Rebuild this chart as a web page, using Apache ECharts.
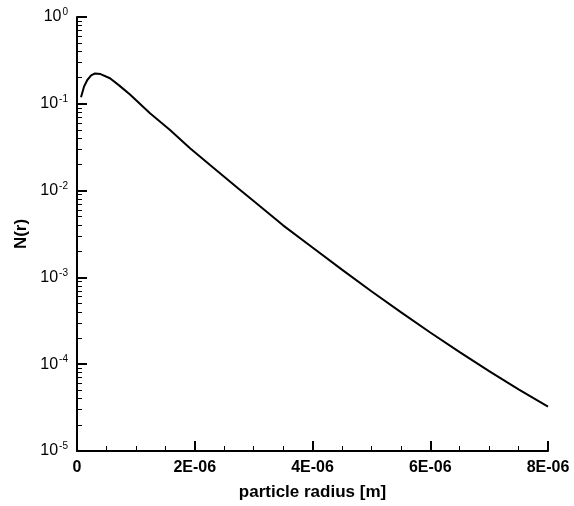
<!DOCTYPE html>
<html>
<head>
<meta charset="utf-8">
<script src="https://cdn.jsdelivr.net/npm/echarts@6/dist/echarts.min.js"></script>
<style>html,body{margin:0;padding:0;background:#fff}#c{width:574px;height:506px}</style>
</head>
<body>
<div id="c"></div>
<script>
// particle radius [m]
var radius = [0.068e-6, 0.12e-6, 0.175e-6, 0.24e-6, 0.306e-6, 0.40e-6, 0.56e-6, 0.72e-6, 0.90e-6, 1.24e-6, 1.58e-6, 1.92e-6,
  2.26e-6, 2.74e-6, 3.0e-6, 3.5e-6, 4.0e-6, 4.5e-6, 5.0e-6, 5.5e-6, 6.0e-6, 6.5e-6, 7.0e-6, 7.5e-6, 8.0e-6];
// N(r)
var nr = [0.119, 0.158, 0.188, 0.212, 0.224, 0.220, 0.197, 0.162, 0.128, 0.0778, 0.0499, 0.0307,
  0.0197, 0.0106, 0.00759, 0.00398, 0.00221, 0.00123, 0.000692, 0.000398, 0.000232, 0.000138, 0.0000832, 0.0000513, 0.0000324];
var xTickValues = [0, 2e-6, 4e-6, 6e-6, 8e-6];
var xTickLabels = ['0', '2E-06', '4E-06', '6E-06', '8E-06'];

var chart = echarts.init(document.getElementById('c'));
var data = radius.map(function (r, i) { return [r, nr[i]]; });
var font = 'Liberation Sans, Arial, Helvetica, sans-serif';

chart.setOption({
  animation: false,
  grid: {left: 77, right: 26, top: 17, bottom: 55},
  xAxis: {
    type: 'value', min: 0, max: 8e-6, interval: 2e-6,
    name: 'particle radius [m]', nameLocation: 'middle', nameGap: 33,
    nameTextStyle: {fontFamily: font, fontSize: 17, fontWeight: 'bold', color: '#000'},
    axisLine: {show: true, onZero: false, lineStyle: {color: '#000', width: 2}},
    axisTick: {show: true, inside: true, length: 10, lineStyle: {color: '#000', width: 2}},
    minorTick: {show: true, splitNumber: 4, length: 5, lineStyle: {color: '#000', width: 1}},
    splitLine: {show: false},
    axisLabel: {
      margin: 9, fontFamily: font, fontSize: 16, fontWeight: 'bold', color: '#000',
      formatter: function (v) {
        for (var i = 0; i < xTickValues.length; i++) if (Math.abs(v - xTickValues[i]) < 1e-12) return xTickLabels[i];
        return '';
      }
    }
  },
  yAxis: [{
    type: 'log', logBase: 10, min: 1e-5, max: 1, position: 'left',
    name: 'N(r)', nameLocation: 'middle', nameGap: 46, nameRotate: 90,
    nameTextStyle: {fontFamily: font, fontSize: 17, fontWeight: 'bold', color: '#000'},
    axisLine: {show: true, onZero: false, lineStyle: {color: '#000', width: 2}},
    axisTick: {show: true, inside: true, length: 10, lineStyle: {color: '#000', width: 2}},
    splitLine: {show: false},
    axisLabel: {
      margin: 9, fontFamily: font, fontSize: 16, color: '#000',
      formatter: function (v) {
        var e = Math.round(Math.log10(v));
        return '10{sup|' + e + '}';
      },
      rich: {sup: {fontFamily: font, fontSize: 10, color: '#000', verticalAlign: 'top', padding: [0, 0, 9, 1]}}
    }
  }, {
    // twin log axis, only for its logarithmic minor ticks
    type: 'log', min: 1e-5, max: 1, position: 'left', offset: 0,
    axisLine: {show: false},
    axisTick: {show: false, inside: true},
    axisLabel: {show: false},
    splitLine: {show: false},
    minorTick: {show: true, splitNumber: 9, length: 5, lineStyle: {color: '#000'}}
  }],
  series: [{
    type: 'line', data: data, showSymbol: false, smooth: false,
    lineStyle: {color: '#000', width: 2}
  }]
});
</script>
</body>
</html>
